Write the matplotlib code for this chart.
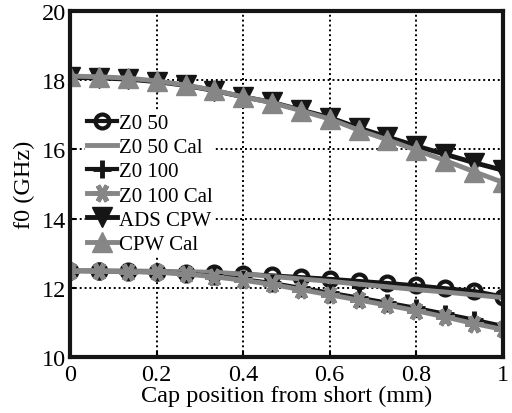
import matplotlib
matplotlib.use('Agg')
import matplotlib.pyplot as plt
import numpy as np

plt.rcParams['font.family'] = ['Liberation Serif', 'DejaVu Serif']

# cap position (mm), 16 samples
x = np.arange(16) / 15.0

z0_50 = [12.49, 12.49, 12.48, 12.46, 12.44, 12.42, 12.40, 12.36,
         12.31, 12.26, 12.20, 12.14, 12.07, 11.99, 11.91, 11.75]
z0_50_cal = [12.50, 12.50, 12.49, 12.48, 12.47, 12.45, 12.40, 12.33,
             12.26, 12.19, 12.11, 12.03, 11.95, 11.88, 11.80, 11.72]
z0_100 = [12.49, 12.48, 12.47, 12.45, 12.41, 12.34, 12.25, 12.14,
          12.00, 11.86, 11.72, 11.57, 11.42, 11.25, 11.08, 10.90]
z0_100_cal = [12.49, 12.48, 12.47, 12.45, 12.40, 12.32, 12.22, 12.10,
              11.95, 11.80, 11.65, 11.50, 11.34, 11.16, 10.97, 10.80]
ads_cpw = [18.08, 18.07, 18.03, 17.96, 17.85, 17.70, 17.52, 17.36,
           17.14, 16.92, 16.62, 16.36, 16.10, 15.86, 15.62, 15.40]
cpw_cal = [18.12, 18.10, 18.06, 17.98, 17.86, 17.71, 17.52, 17.35,
           17.12, 16.88, 16.56, 16.28, 15.98, 15.68, 15.36, 15.05]

BLK = '#151515'
GRY = '#868686'

fig = plt.figure(figsize=(5.12, 4.14), dpi=100)
ax = fig.add_axes([0.137, 0.135, 0.845, 0.836])

ax.plot(x, z0_50, color=BLK, lw=3, marker='o', ms=10, mfc='none',
        mec=BLK, mew=3, label='Z0 50')
ax.plot(x, z0_50_cal, color=GRY, lw=3.5, label='Z0 50 Cal')
ax.plot(x, z0_100, color=BLK, lw=3, marker='+', ms=13, mew=3.5,
        label='Z0 100')
ax.plot(x, z0_100_cal, color=GRY, lw=3.5, marker=(6, 2, 90), ms=13,
        mew=3.5, mec=GRY, label='Z0 100 Cal')
ax.plot(x, ads_cpw, color=BLK, lw=3.5, marker='v', ms=14, mfc=BLK,
        mec=BLK, label='ADS CPW')
ax.plot(x, cpw_cal, color=GRY, lw=3.5, marker='^', ms=14, mfc=GRY,
        mec=GRY, label='CPW Cal')

ax.set_xlim(0, 1)
ax.set_ylim(10, 20)
ax.set_xticks([0, 0.2, 0.4, 0.6, 0.8, 1])
ax.set_xticklabels(['0', '0.2', '0.4', '0.6', '0.8', '1'])
ax.set_yticks([10, 12, 14, 16, 18, 20])
ax.grid(True, color='black', linestyle=(0, (1, 1.5)), linewidth=1.4)
ax.tick_params(direction='in', length=4, width=1.5, labelsize=17.5)
ax.tick_params(axis='x', pad=5)
ax.tick_params(axis='y', pad=3)
for s in ax.spines.values():
    s.set_linewidth(3)
    s.set_color(BLK)

ax.set_xlabel('Cap position from short (mm)', fontsize=17.5, labelpad=0)
ax.set_ylabel('f0 (GHz)', fontsize=17.5, labelpad=5)

leg = ax.legend(loc='upper left', bbox_to_anchor=(0.035, 0.71),
                fontsize=15, frameon=True, handlelength=1.4,
                handletextpad=0.1, labelspacing=0.22, borderpad=0.1,
                borderaxespad=0)
leg.get_frame().set_edgecolor('none')
leg.get_frame().set_facecolor('white')
leg.get_frame().set_alpha(1)

fig.savefig('out.png', dpi=100)
